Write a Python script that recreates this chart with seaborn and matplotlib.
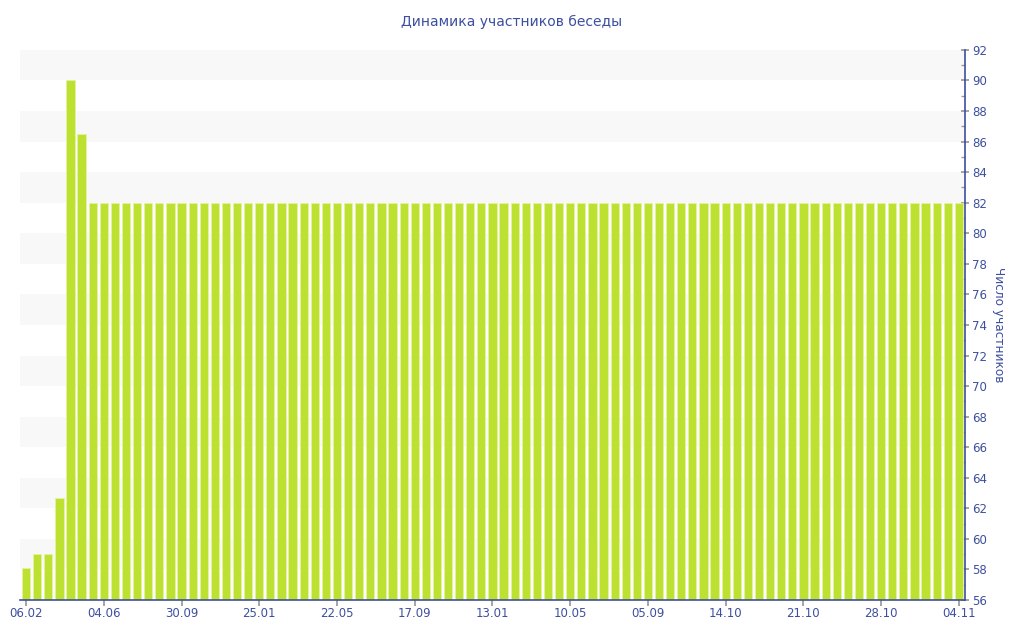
import numpy as np
import pandas as pd
import matplotlib
matplotlib.use('Agg')
import matplotlib.pyplot as plt
import seaborn as sns
from matplotlib.ticker import MultipleLocator

# --- data ---
first_values = [58.1, 59, 59, 62.7, 90, 86.5]
plateau_value = 82
n_bars = 85
members = first_values + [plateau_value] * (n_bars - len(first_values))

tick_labels = ['06.02', '04.06', '30.09', '25.01', '22.05', '17.09', '13.01',
               '10.05', '05.09', '14.10', '21.10', '28.10', '04.11']
tick_step = 7

df = pd.DataFrame({'day': np.arange(n_bars), 'members': members})

# --- styling ---
sns.set_theme(style='white')
plt.rcParams['font.family'] = ['DejaVu Sans']
blue = '#3d4f9f'
bar_color = '#bde131'

fig = plt.figure(figsize=(10.24, 6.4), dpi=100)
ax = fig.add_axes([0.0195, 0.0625, 0.9229, 0.8595])

# alternating horizontal bands
for lo in range(58, 92, 4):
    ax.axhspan(lo, lo + 2, color='#f8f8f8', zorder=0, lw=0)

sns.barplot(ax=ax, data=df, x='day', y='members', color=bar_color,
            width=0.74, saturation=1, edgecolor='#e4f29c', linewidth=0.6,
            zorder=2)

ax.set_ylim(56, 92)
ax.set_xlim(-0.55, n_bars - 0.45)

ax.set_xticks(np.arange(0, n_bars, tick_step))
ax.set_xticklabels(tick_labels)

ax.yaxis.tick_right()
ax.yaxis.set_label_position('right')
ax.yaxis.set_major_locator(MultipleLocator(2))
ax.yaxis.set_minor_locator(MultipleLocator(1))

for side in ['top', 'left']:
    ax.spines[side].set_visible(False)
for side in ['bottom', 'right']:
    ax.spines[side].set_color(blue)
    ax.spines[side].set_linewidth(1.2)

ax.tick_params(axis='y', which='major', direction='inout', length=6,
               color='#999999', labelcolor=blue, labelsize=8.5, pad=2, right=True, left=False)
ax.tick_params(axis='y', which='minor', direction='in', length=3,
               color='#999999', right=True, left=False)
ax.tick_params(axis='x', which='major', direction='out', length=4,
               color='#999999', labelcolor=blue, labelsize=8.5, pad=1, bottom=True)

ax.set_xlabel('')
ax.set_ylabel('Число участников', color=blue, fontsize=8.7, rotation=270, labelpad=13)
fig.suptitle('Динамика участников беседы', color=blue, fontsize=10,
             x=0.5, y=0.966, va='center')

fig.savefig('out.png', dpi=100)
plt.close(fig)
